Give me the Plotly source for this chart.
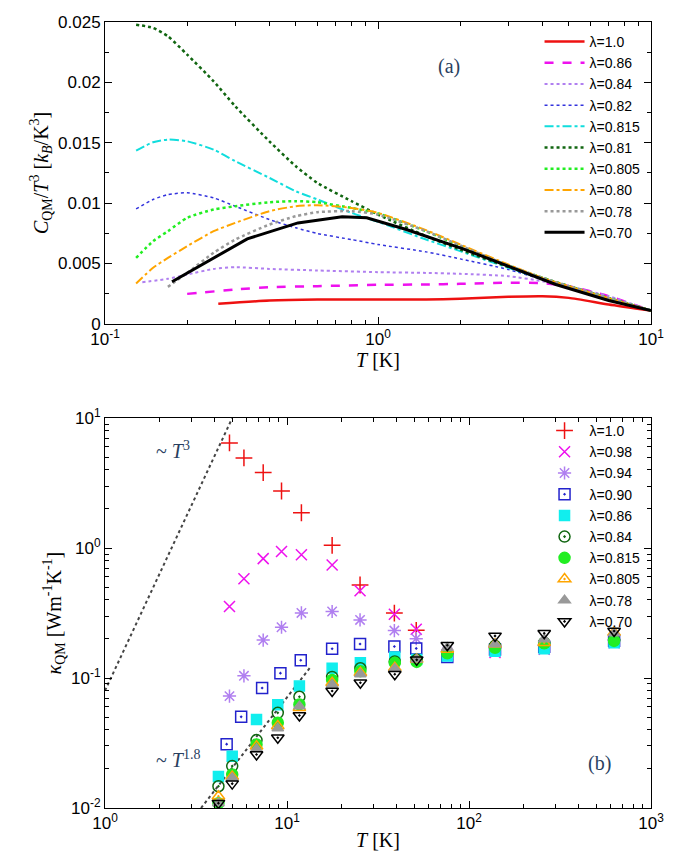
import plotly.graph_objects as go
from plotly.subplots import make_subplots

# ---------- panel (a): C_QM / T^3 ----------
T_grid = [0.13, 0.15, 0.17, 0.2, 0.25, 0.3, 0.4, 0.5, 0.6, 0.8, 1, 1.5, 2, 3, 4, 5, 7, 10]
tail = [0.00381, 0.00312, 0.00213, 0.0011]  # T = 4, 5, 7, 10

T_10 = [0.26, 0.4, 0.6, 1, 1.5, 2, 3, 4, 5, 7, 10]
C_10 = [0.00166, 0.00193, 0.00201, 0.00201, 0.00201, 0.00207, 0.00224, 0.00229, 0.00215, 0.0016, 0.0011]
T_086 = [0.2, 0.3, 0.4, 0.6, 1, 1.5, 2, 3, 4, 5, 7, 10]
C_086 = [0.00248, 0.00284, 0.00304, 0.00312, 0.00323, 0.00326, 0.00331, 0.0034, 0.00337, 0.00312, 0.00229, 0.0011]
T_084 = [0.137, 0.17, 0.2, 0.25, 0.3, 0.4, 0.6, 1, 1.5, 2, 3, 4, 5, 7, 10]
C_084 = [0.00345, 0.00373, 0.00408, 0.00455, 0.00469, 0.00455, 0.00442, 0.00428, 0.00422, 0.00414, 0.00395, 0.00353, 0.00312, 0.00229, 0.0011]
C_082 = [0.00952, 0.0103, 0.0107, 0.01085, 0.01043, 0.00974, 0.00864, 0.00795, 0.00748, 0.00698, 0.00657, 0.00596, 0.00538, 0.0045, 0.00367, 0.00298, 0.00201, 0.0011]
C_0815 = [0.01435, 0.01504, 0.01526, 0.01512, 0.01443, 0.01347, 0.01209, 0.01098, 0.0103, 0.00919, 0.00845, 0.00698, 0.00602, 0.00464, 0.00373, 0.00312, 0.00213, 0.0011]
C_081 = [0.02478, 0.02451, 0.02382, 0.0223, 0.02009, 0.01802, 0.01512, 0.01305, 0.01167, 0.01016, 0.00905, 0.00726, 0.00615, 0.00472] + tail
C_0805 = [0.00546, 0.00684, 0.00767, 0.00878, 0.00947, 0.00974, 0.01007, 0.01016, 0.01007, 0.0096, 0.00914, 0.00767, 0.00643, 0.00483] + tail
C_080 = [0.00334, 0.00464, 0.00546, 0.00643, 0.00767, 0.00836, 0.00933, 0.00974, 0.00983, 0.0096, 0.00919, 0.00776, 0.00657, 0.00491] + tail
T_078 = [0.17, 0.2, 0.25, 0.3, 0.4, 0.5, 0.6, 0.8, 1, 1.5, 2, 3, 4, 5, 7, 10]
C_078 = [0.00306, 0.00422, 0.00588, 0.00698, 0.00822, 0.00891, 0.00925, 0.00933, 0.00905, 0.00767, 0.00649, 0.00483] + tail
T_070 = [0.176, 0.262, 0.332, 0.509, 0.739, 0.909, 1.27, 2.05, 2.99, 4.48, 7.0, 10]
C_070 = [0.00348, 0.00574, 0.00704, 0.00836, 0.00886, 0.00878, 0.00781, 0.00621, 0.00477, 0.00326, 0.00193, 0.0011]

curves_a = [
    ("λ=1.0", T_10, C_10, "#ee1111", "solid", 2.5),
    ("λ=0.86", T_086, C_086, "#ee11ee", "dash", 2.5),
    ("λ=0.84", T_084, C_084, "#b07ff0", "dot", 2),
    ("λ=0.82", T_grid, C_082, "#3333dd", "dot", 1.5),
    ("λ=0.815", T_grid, C_0815, "#11dddd", "dashdot", 2),
    ("λ=0.81", T_grid, C_081, "#116611", "dot", 2.5),
    ("λ=0.805", T_grid, C_0805, "#22ee22", "dot", 2.5),
    ("λ=0.80", T_grid, C_080, "#ffa500", "dashdot", 2),
    ("λ=0.78", T_078, C_078, "#999999", "dot", 2.5),
    ("λ=0.70", T_070, C_070, "#000000", "solid", 3),
]

# ---------- panel (b): kappa_QM ----------
X_hi = [4.83, 5.8, 7.4, 9.33, 12.0, 17.7, 25.2, 38.9, 51.3]
K_10 = [6.45, 4.94, 3.81, 2.75, 1.87, 1.05, 0.52, 0.316, 0.233]
X_098 = X_hi + [76, 139, 259, 627]
K_098 = [0.355, 0.58, 0.83, 0.94, 0.89, 0.74, 0.47, 0.31, 0.237, 0.152, 0.157, 0.167, 0.187]
K_094 = [0.0726, 0.104, 0.196, 0.246, 0.317, 0.325, 0.28, 0.232, 0.201, 0.16, 0.171, 0.179, 0.196]
X_090 = [4.66, 5.6, 7.3, 9.2, 11.9, 17.7, 25.2, 38.9, 51.3, 76, 139, 259, 627]
K_090 = [0.031, 0.0503, 0.0838, 0.109, 0.137, 0.168, 0.183, 0.175, 0.169, 0.145, 0.166, 0.174, 0.194]
X_lo = [4.2, 5.0, 6.8, 8.9, 11.7, 17.7, 25.3, 39.1, 51.6, 76, 139, 259, 627]
K_086 = [0.0175, 0.025, 0.048, 0.0623, 0.0867, 0.119, 0.131, 0.145, 0.139, 0.148, 0.161, 0.168, 0.187]
K_084 = [0.0147, 0.021, 0.0333, 0.054, 0.0718, 0.102, 0.119, 0.134, 0.138, 0.157, 0.177, 0.187, 0.196]
K_0815 = [0.0109, 0.0181, 0.0308, 0.0453, 0.0627, 0.0966, 0.113, 0.131, 0.133, 0.155, 0.171, 0.185, 0.193]
K_0805 = [0.0123, 0.0175, 0.0299, 0.0427, 0.059, 0.092, 0.11, 0.12, 0.139, 0.166, 0.182, 0.187, 0.224]
K_078 = [0.0109, 0.017, 0.0285, 0.041, 0.0607, 0.089, 0.107, 0.118, 0.139, 0.171, 0.182, 0.199, 0.221]
K_070 = [0.0109, 0.0154, 0.0258, 0.0347, 0.0515, 0.0794, 0.092, 0.107, 0.138, 0.179, 0.211, 0.221, 0.23]

series_b = [
    ("λ=1.0", X_hi, K_10, "#ee1111", "cross-thin", 12),
    ("λ=0.98", X_098, K_098, "#ee11ee", "x-thin", 11),
    ("λ=0.94", X_098, K_094, "#b07ff0", "asterisk", 11),
    ("λ=0.90", X_090, K_090, "#2222cc", "square-open-dot", 11),
    ("λ=0.86", X_lo, K_086, "#11eeee", "square", 10),
    ("λ=0.84", X_lo, K_084, "#116611", "circle-open-dot", 11),
    ("λ=0.815", X_lo, K_0815, "#22ee22", "circle", 11),
    ("λ=0.805", X_lo, K_0805, "#ffa500", "triangle-up-open-dot", 11),
    ("λ=0.78", X_lo, K_078, "#999999", "triangle-up", 10),
    ("λ=0.70", X_lo, K_070, "#000000", "triangle-down-open-dot", 11),
]

# guide lines
T3_x = [1.0, 5.0]
T3_y = [0.08, 10.0]
T18_x = [3.37, 13.5]
T18_y = [0.01, 0.122]

fig = make_subplots(rows=2, cols=1, vertical_spacing=0.12)

for name, x, y, c, d, w in curves_a:
    fig.add_trace(go.Scatter(x=x, y=y, mode="lines", name=name, legend="legend",
                             line=dict(color=c, dash=d, width=w, shape="spline", smoothing=0.6)),
                  row=1, col=1)
fig.data[-1].line.shape = "linear"

for x, y in [(T3_x, T3_y), (T18_x, T18_y)]:
    fig.add_trace(go.Scatter(x=x, y=y, mode="lines", showlegend=False,
                             line=dict(color="#444444", dash="dot", width=2)), row=2, col=1)

for name, x, y, c, s, sz in series_b:
    fig.add_trace(go.Scatter(x=x, y=y, mode="markers", name=name, legend="legend2",
                             marker=dict(symbol=s, size=sz, color=c, line=dict(color=c, width=1.5))),
                  row=2, col=1)

axis_common = dict(type="log", showgrid=False, ticks="inside", mirror="ticks", showline=True,
                   linecolor="black", linewidth=1, tickcolor="black", ticklen=7, automargin=False,
                   minor=dict(ticks="inside", ticklen=4, tickcolor="black", dtick="D1", showgrid=False),
                   tickfont=dict(family="Liberation Sans", size=17, color="black"),
                   zeroline=False)
sup = lambda e: "10<sup>%d</sup>" % e
title_font = dict(family="Liberation Serif", size=20, color="black")

fig.update_xaxes(axis_common, row=1, col=1, range=[-1, 1], tickvals=[0.1, 1, 10],
                 ticktext=[sup(-1), sup(0), sup(1)],
                 title=dict(text="<i>T</i> [K]", font=title_font, standoff=0))
fig.update_xaxes(axis_common, row=2, col=1, range=[0, 3], tickvals=[1, 10, 100, 1000],
                 ticktext=[sup(0), sup(1), sup(2), sup(3)],
                 title=dict(text="<i>T</i> [K]", font=title_font, standoff=0))
fig.update_yaxes(row=1, col=1, range=[0, 0.025], tickvals=[0, 0.005, 0.01, 0.015, 0.02, 0.025],
                 ticktext=["0", "0.005", "0.01", "0.015", "0.02", "0.025"], automargin=False,
                 showgrid=False, ticks="inside", mirror="ticks", showline=True, linecolor="black",
                 tickcolor="black", ticklen=7, zeroline=False,
                 minor=dict(ticks="inside", ticklen=4, tickcolor="black", dtick=0.0025, showgrid=False),
                 tickfont=dict(family="Liberation Sans", size=17, color="black"),
                 title=dict(text="<i>C</i><sub>QM</sub>/<i>T</i><sup>3</sup> [<i>k<sub>B</sub></i>/K<sup>3</sup>]",
                            font=title_font, standoff=4))
fig.update_yaxes(axis_common, row=2, col=1, range=[-2, 1], tickvals=[0.01, 0.1, 1, 10],
                 ticktext=[sup(-2), sup(-1), sup(0), sup(1)],
                 title=dict(text="<i>κ</i><sub>QM</sub> [Wm<sup>-1</sup>K<sup>-1</sup>]",
                            font=title_font, standoff=4))

leg = dict(bgcolor="rgba(0,0,0,0)", font=dict(family="Liberation Sans", size=14, color="black"),
           xanchor="right", yanchor="top", tracegroupgap=0, itemwidth=40)
fig.update_layout(
    width=683, height=861, plot_bgcolor="white", paper_bgcolor="white",
    margin=dict(l=97, r=40, t=14, b=61),
    legend=dict(leg, x=0.99, y=0.995),
    legend2=dict(leg, x=0.99, y=0.50),
    annotations=[
        dict(text="(a)", x=0.63, y=0.96, xref="paper", yref="paper", showarrow=False,
             font=dict(family="Liberation Serif", size=20)),
        dict(text="(b)", x=0.93, y=0.04, xref="paper", yref="paper", showarrow=False,
             font=dict(family="Liberation Serif", size=20)),
        dict(text="~ <i>T</i><sup>3</sup>", x=0.09, y=0.455, xref="paper", yref="paper",
             showarrow=False, font=dict(family="Liberation Serif", size=20)),
        dict(text="~ <i>T</i><sup>1.8</sup>", x=0.09, y=0.045, xref="paper", yref="paper",
             showarrow=False, font=dict(family="Liberation Serif", size=20)),
    ],
)
fig.update_layout(yaxis=dict(domain=[0.616, 1.0]), yaxis2=dict(domain=[0.0, 0.496]))

fig.write_html("out.html")
